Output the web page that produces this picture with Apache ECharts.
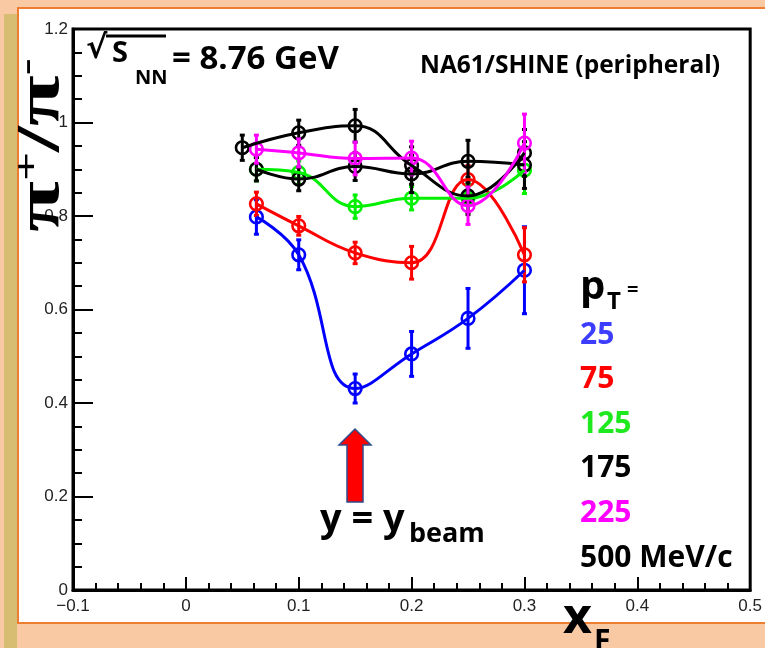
<!DOCTYPE html>
<html><head><meta charset="utf-8">
<script src="https://cdn.jsdelivr.net/npm/echarts/dist/echarts.min.js"></script>
<style>html,body{margin:0;padding:0;background:#f9c9a3}#c{width:765px;height:648px}</style>
</head><body><div id="c"></div>
<script>
// ---- data ----
const xF    = [0.0625, 0.1, 0.15, 0.2, 0.25, 0.3];
const xF500 = [0.05,   0.1, 0.15, 0.2, 0.25, 0.3];

const pt25  = [0.798, 0.717, 0.431, 0.505, 0.581, 0.684];
const err25 = [0.037, 0.032, 0.031, 0.048, 0.064, 0.093];

const pt75  = [0.826, 0.779, 0.721, 0.700, 0.878, 0.717];
const err75 = [0.025, 0.020, 0.023, 0.035, 0.030, 0.058];

const pt125  = [0.900, 0.893, 0.820, 0.838, 0.838, 0.898];
const err125 = [0.025, 0.025, 0.025, 0.025, 0.030, 0.050];

const pt175  = [0.900, 0.879, 0.906, 0.890, 0.917, 0.909];
const err175 = [0.025, 0.025, 0.030, 0.040, 0.045, 0.050];

const pt225  = [0.943, 0.935, 0.923, 0.924, 0.822, 0.956];
const err225 = [0.030, 0.030, 0.035, 0.036, 0.040, 0.062];

const pt500  = [0.946, 0.978, 0.993, 0.908, 0.843, 0.935];
const err500 = [0.027, 0.027, 0.035, 0.040, 0.040, 0.050];

const xTicks = [-0.1, 0, 0.1, 0.2, 0.3, 0.4, 0.5];
const yTicks = [0, 0.2, 0.4, 0.6, 0.8, 1, 1.2];
const legendLabels = ['25', '75', '125', '175', '225', '500 MeV/c'];

// ---- styles ----
const sets = [
  {x: xF,    v: pt25,  e: err25,  color: '#0000ff'},
  {x: xF,    v: pt75,  e: err75,  color: '#ff0000'},
  {x: xF,    v: pt125, e: err125, color: '#00f000'},
  {x: xF,    v: pt175, e: err175, color: '#000000'},
  {x: xF500, v: pt500, e: err500, color: '#000000'},
  {x: xF,    v: pt225, e: err225, color: '#ff00ff'}
];
const legendColors = ['#3d3dff', '#ff0000', '#1ee81e', '#000000', '#ff00ff', '#000000'];

const series = [];
sets.forEach(s => {
  series.push({
    type: 'line', smooth: 0.45, symbol: 'none',
    lineStyle: {color: s.color, width: 3},
    data: s.x.map((x, i) => [x, s.v[i]]),
    silent: true, animation: false
  });
  series.push({
    type: 'custom', animation: false, silent: true,
    data: s.x.map((x, i) => [x, s.v[i], s.e[i]]),
    renderItem: function (params, api) {
      const x = api.value(0), y = api.value(1), e = api.value(2);
      const c = api.coord([x, y]);
      const t = api.coord([x, y + e]);
      const b = api.coord([x, y - e]);
      const st = {stroke: s.color, lineWidth: 3, fill: null};
      return {type: 'group', children: [
        {type: 'line', shape: {x1: c[0], y1: t[1], x2: c[0], y2: b[1]}, style: st},
        {type: 'line', shape: {x1: c[0] - 2.5, y1: t[1], x2: c[0] + 2.5, y2: t[1]}, style: st},
        {type: 'line', shape: {x1: c[0] - 2.5, y1: b[1], x2: c[0] + 2.5, y2: b[1]}, style: st},
        {type: 'circle', shape: {cx: c[0], cy: c[1], r: 6.3}, style: {stroke: s.color, lineWidth: 2.6, fill: null}}
      ]};
    }
  });
});

const F = 'Open Sans';
function T(txt, x, y, size, color, align, family) {
  return {type: 'text', x: x, y: y, z: 100,
    style: {text: txt, fill: color || '#000', font: 'bold ' + size + 'px "' + (family || F) + '"',
            align: align || 'left', verticalAlign: 'middle'}};
}

const graphics = [
  // left decorative strip and white panel
  {type: 'rect', shape: {x: 4, y: 14, width: 13, height: 640}, style: {fill: '#d6bd71'}, z: -10},
  {type: 'rect', shape: {x: 18, y: 8, width: 800, height: 615}, style: {fill: '#ffffff', stroke: '#ed7d31', lineWidth: 2}, z: -10},
  // sqrt(s_NN)
  T('√', 86, 50, 32, '#000', 'left', 'DejaVu Sans'),
  {type: 'line', shape: {x1: 106, y1: 36, x2: 166, y2: 36}, style: {stroke: '#000', lineWidth: 3}, z: 100},
  T('S', 112, 54, 29),
  T('NN', 135, 78, 20),
  T('= 8.76 GeV', 172, 60, 33),
  T('NA61/SHINE (peripheral)', 570, 66, 24.5, '#000', 'center'),
  // p_T legend
  T('p', 580, 288, 40),
  T('T', 607, 302, 24),
  T('=', 627, 290, 20),
  // arrow
  {type: 'polygon', z: 100, shape: {points: [[347, 502], [347, 445], [339, 445], [355, 429], [371, 445], [363, 445], [363, 502]]},
   style: {fill: '#ff0000', stroke: '#2f4b8c', lineWidth: 1.5}},
  T('y = y', 320, 520, 38),
  T('beam', 409, 534, 27),
  // x axis title
  T('x', 563, 619, 50),
  T('F', 594, 642, 30),
  // y axis title (rotated, reads bottom to top)
  {type: 'text', x: 42, y: 232, rotation: Math.PI / 2, scaleX: 1.5, z: 100,
   style: {text: '{p|π}{s|+}{p|/}{p|π}{s|-}', align: 'left', verticalAlign: 'middle',
     rich: {
       p: {font: 'bold 62px "Liberation Serif"', fill: '#000', verticalAlign: 'bottom'},
       s: {font: 'bold 34px "Liberation Serif"', fill: '#000', verticalAlign: 'top'}
     }}}
];
legendLabels.forEach((lab, i) => {
  graphics.push(T(lab, 580, 335 + i * 44.6, 30, legendColors[i]));
});

function fmt(v) {
  const r = Math.round(v * 10) / 10;
  if (r === 0) return '0';
  return (r < 0 ? '−' : '') + String(Math.abs(r));
}

const chart = echarts.init(document.getElementById('c'), null, {renderer: 'canvas'});
chart.setOption({
  backgroundColor: '#f9c9a3',
  animation: false,
  grid: {left: 73, right: 8, top: 29, bottom: 58, show: true, borderColor: '#000', borderWidth: 3, backgroundColor: 'transparent'},
  xAxis: {
    type: 'value', min: xTicks[0], max: xTicks[xTicks.length - 1], interval: 0.1,
    axisLine: {onZero: false, lineStyle: {color: '#000', width: 3}},
    axisTick: {inside: true, length: 13, lineStyle: {color: '#000', width: 2}},
    minorTick: {show: true, splitNumber: 5, length: 7, lineStyle: {color: '#000', width: 2}},
    splitLine: {show: false}, minorSplitLine: {show: false},
    axisLabel: {color: '#222', fontSize: 17, fontFamily: 'Liberation Sans', margin: 8, formatter: fmt}
  },
  yAxis: {
    type: 'value', min: yTicks[0], max: yTicks[yTicks.length - 1], interval: 0.2,
    axisLine: {onZero: false, lineStyle: {color: '#000', width: 3}},
    axisTick: {inside: true, length: 20, lineStyle: {color: '#000', width: 2}},
    minorTick: {show: true, splitNumber: 4, length: 9, lineStyle: {color: '#000', width: 2}},
    splitLine: {show: false}, minorSplitLine: {show: false},
    axisLabel: {color: '#222', fontSize: 17, fontFamily: 'Liberation Sans', margin: 5,
      formatter: v => String(Math.round(v * 10) / 10)}
  },
  graphic: graphics,
  series: series
});
</script></body></html>
